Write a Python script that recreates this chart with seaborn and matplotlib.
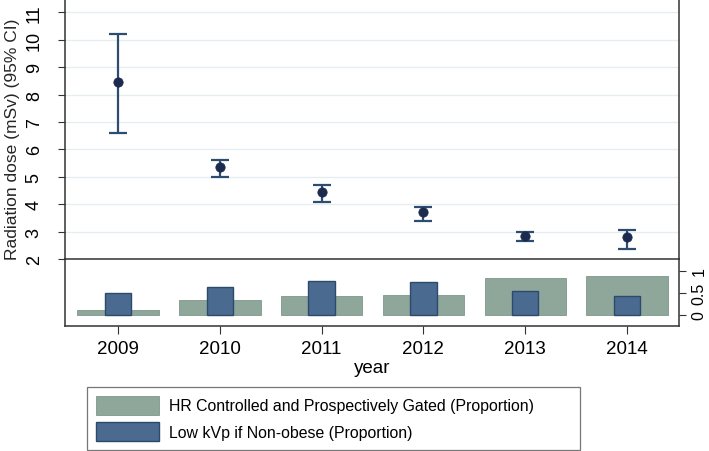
import numpy as np
import pandas as pd
import matplotlib
matplotlib.use("Agg")
import matplotlib.pyplot as plt
import seaborn as sns

years = ["2009", "2010", "2011", "2012", "2013", "2014"]
dose = [8.45, 5.35, 4.46, 3.70, 2.83, 2.79]
dose_lo = [6.59, 4.99, 4.08, 3.39, 2.67, 2.38]
dose_hi = [10.2, 5.60, 4.70, 3.89, 2.97, 3.07]
hr_gated = [0.12, 0.34, 0.42, 0.46, 0.83, 0.89]
low_kvp = [0.51, 0.63, 0.78, 0.74, 0.54, 0.42]

df = pd.DataFrame({"year": years, "dose": dose, "lo": dose_lo, "hi": dose_hi,
                   "hr": hr_gated, "kvp": low_kvp})

sns.set_style("white")
plt.rcParams["font.family"] = ["Liberation Sans", "DejaVu Sans"]
plt.rcParams["text.color"] = "black"
plt.rcParams["xtick.color"] = "black"
plt.rcParams["ytick.color"] = "black"

line_col = "#2c4c70"
dot_col = "#1b2a4e"
gray_col = "#8fa69b"
blue_col = "#4a6b8f"
spine_col = "#333333"

fig = plt.figure(figsize=(7.09, 4.52), dpi=100)
bx = fig.add_axes([65/709, 1-327/452, (679-65)/709, 67/452])
ax = fig.add_axes([65/709, 1-260/452, (679-65)/709, 260/452])
# dose panel on top so its bottom frame line is not hidden by the bar panel
ax.set_zorder(3)
ax.patch.set_alpha(0)

# top panel: dose with 95% CI
pos = np.arange(len(years))
err = [df["dose"] - df["lo"], df["hi"] - df["dose"]]
ax.errorbar(pos, df["dose"], yerr=err, fmt="none", ecolor=line_col,
            elinewidth=1.6, capsize=6.5, capthick=1.6, zorder=3)
sns.scatterplot(x=pos, y=df["dose"], ax=ax, color=dot_col, s=45,
                edgecolor=dot_col, zorder=4, legend=False)
ax.set_xlim(-0.52, 5.51)
ax.set_ylim(2, 11.49)
ax.set_yticks(range(2, 12))
ax.set_yticklabels([str(i) for i in range(2, 12)], rotation=90, va="center", fontsize=13)
ax.yaxis.grid(True, color="#e6edf0", lw=1)
ax.tick_params(axis="y", direction="out", length=5, width=0.8, pad=11, left=True, color=spine_col)
ax.tick_params(axis="x", bottom=False, labelbottom=False)
ax.set_xlabel("")
ax.spines["top"].set_visible(False)
for s in ["left", "right", "bottom"]:
    ax.spines[s].set_visible(True)
    ax.spines[s].set_color(spine_col)
    ax.spines[s].set_linewidth(1.1)
ax.set_ylabel("Radiation dose (mSv) (95% CI)", fontsize=12.5)
ax.yaxis.set_label_coords(-45/614, 1-139/260)

# bottom panel: proportions
sns.barplot(data=df, x="year", y="hr", ax=bx, color=gray_col, width=0.8,
            edgecolor="#7f978b", linewidth=0.6, saturation=1,
            label="HR Controlled and Prospectively Gated (Proportion)")
sns.barplot(data=df, x="year", y="kvp", ax=bx, color=blue_col, width=0.26,
            edgecolor="#2b4a6c", linewidth=1.0, saturation=1,
            label="Low kVp if Non-obese (Proportion)")
handles, labels = bx.get_legend_handles_labels()
if bx.get_legend() is not None:
    bx.get_legend().remove()

bx.set_xlim(-0.52, 5.51)
bx.set_ylim(-0.25, 1.27)
bx.yaxis.tick_right()
bx.set_yticks([0, 0.5, 1])
bx.set_yticklabels(["0", "0.5", "1"], rotation=90, va="center", fontsize=11.5)
bx.tick_params(axis="y", direction="out", length=5, width=0.8, pad=4, right=True, left=False, color=spine_col)
bx.tick_params(axis="x", direction="out", length=6, width=0.8, pad=4, bottom=True, color=spine_col, labelsize=13.5)
bx.set_xlabel("")
bx.set_ylabel("")
bx.spines["top"].set_visible(False)
for s in ["left", "right", "bottom"]:
    bx.spines[s].set_visible(True)
    bx.spines[s].set_color(spine_col)
    bx.spines[s].set_linewidth(1.1)

fig.text(372/709, 1-369/452, "year", ha="center", va="center", fontsize=13.5)

leg = fig.legend(handles, labels, loc="upper left",
                 bbox_to_anchor=(87/709, 1-388/452 - 0.01, (580-87)/709, 0.01), mode="expand",
                 fontsize=11.4, frameon=True, fancybox=False, edgecolor="#555555",
                 handlelength=4.0, handleheight=1.45, handletextpad=0.65,
                 labelspacing=0.5, borderpad=0.55, borderaxespad=0)
leg.get_frame().set_linewidth(0.9)

fig.savefig("out.png", dpi=100)
